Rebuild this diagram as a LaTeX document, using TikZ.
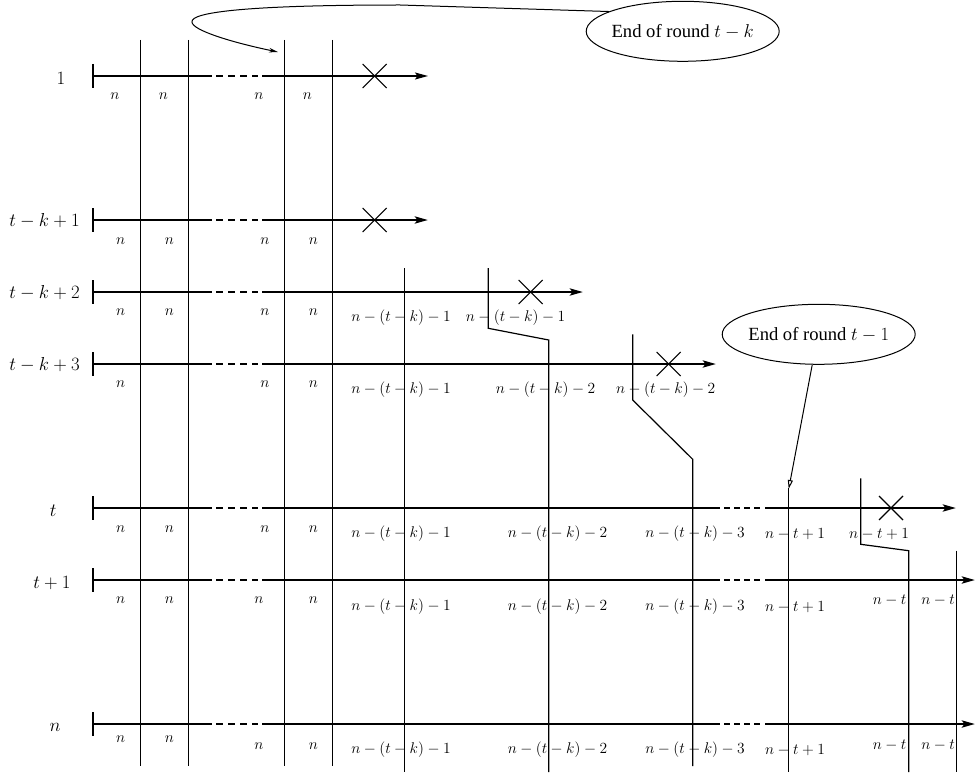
\RequirePackage{fix-cm}
\documentclass[tikz,border=0pt]{standalone}
\usepackage{fontspec}
\newfontfamily\timesfont{Liberation Serif}
\usetikzlibrary{arrows.meta,shapes.geometric}
\begin{document}
\begin{tikzpicture}[x=1pt,y=-1pt,
  rowline/.style={line width=2.6pt},
  thinrow/.style={line width=1.2pt},
  vline/.style={line width=1.2pt},
  rowarrow/.style={-{Stealth[length=13pt,width=7pt,inset=2.5pt]}},
  dashseg/.style={line width=2.6pt, dash pattern=on 7pt off 5pt},
  dashsegb/.style={line width=2.6pt, dash pattern=on 6pt off 4pt},
  cross/.style={line width=1.1pt},
  small/.style={font=\fontsize{15.5}{18}\selectfont, inner sep=0pt},
  big/.style={font=\fontsize{18.8}{22}\selectfont, inner sep=0pt},
  bubble/.style={draw, ellipse, line width=1pt, minimum width=193pt, minimum height=60pt, inner sep=0pt, font=\timesfont\fontsize{18.6}{22}\selectfont}
]
\useasboundingbox (0,0) rectangle (976,773);

% rows: start tick, first thick part, dashes
\foreach \y in {76,220,292,364,508,580,724} {
  \draw[vline] (93,\y-12) -- (93,\y+12);
  \draw[rowline] (93,\y) -- (212,\y);
  \draw[dashseg] (216,\y) -- (258,\y);
}
\draw[thinrow,rowarrow] (262,76) -- (428,76);
\draw[rowline,rowarrow] (262,220) -- (428,220);
\draw[rowline,rowarrow] (262,292) -- (583,292);
\draw[rowline,rowarrow] (262,364) -- (716,364);
\foreach \y in {508,580,724} {
  \draw[rowline] (262,\y) -- (720,\y);
  \draw[dashsegb] (724,\y) -- (761,\y);
}
\draw[rowline,rowarrow] (765,508) -- (956,508);
\draw[rowline,rowarrow] (765,580) -- (975,580);
\draw[rowline,rowarrow] (765,724) -- (975,724);

% vertical lines
\foreach \x in {140.7,188.7,284.7,332.7} \draw[vline] (\x,40) -- (\x,766);
\draw[vline] (404.7,268) -- (404.7,772);
\draw[vline] (488.3,268) -- (488.3,328.3) -- (548.7,340) -- (548.7,772);
\draw[vline] (632.7,334.3) -- (632.7,400) -- (692.7,459.3) -- (692.7,766);
\draw[vline] (788.7,488) -- (788.7,772);
\draw[vline] (860.7,478.3) -- (860.7,544.3) -- (908.7,550.7) -- (908.7,772);
\draw[vline] (956.7,550.7) -- (956.7,772);

% crosses
\foreach \x/\y in {374.7/76,374.7/220,530.7/292,668.7/364,891/508}
  \draw[cross] (\x-12,\y-12) -- (\x+12,\y+12) (\x-12,\y+12) -- (\x+12,\y-12);

% row labels
\node[big] (r1) at (61,78) {$1$};
\node[big] (r2) at (44.5,221) {$t-k+1$};
\node[big] (r3) at (44.5,293) {$t-k+2$};
\node[big] (r4) at (44.5,365) {$t-k+3$};
\node[big] (r5) at (53.3,511) {$t$};
\node[big] (r6) at (52,583) {$t+1$};
\node[big] (r7) at (55,727) {$n$};

% n labels
\foreach \x/\y [count=\i] in {115/96.5,163.3/96.5,259/96.5,307.3/96.5,
  120.7/240.7,169.3/240.7,265/240.7,313.3/240.7,
  120.7/312,169.3/312,265/312,313.3/312,
  120.7/384.3,265/384.3,313.3/384.3,
  120.7/528.7,169.3/528.7,265/528.7,313.3/528.7,
  120.7/600.3,169.3/600.3,259/600.3,313.3/600.3,
  120.7/739.3,169.3/739.3,259/745.7,313.3/745.7}
  \node[small] (n\i) at (\x,\y) {$n$};

% longer labels
\node[small] (a1) at (401,318) {$n-(t-k)-1$};
\node[small] (a2) at (515.5,318) {$n-(t-k)-1$};
\node[small] (b1) at (401,389.5) {$n-(t-k)-1$};
\node[small] (b2) at (545.5,390) {$n-(t-k)-2$};
\node[small] (b3) at (665.7,390) {$n-(t-k)-2$};
\foreach \y/\r in {534/c,606.7/d,750/e} {
  \node[small] (\r1) at (401,\y) {$n-(t-k)-1$};
  \node[small] (\r2) at (557.5,\y) {$n-(t-k)-2$};
  \node[small] (\r3) at (695,\y) {$n-(t-k)-3$};
  \node[small] (\r4) at (795,\y) {$n-t+1$};
}
\node[small] (c5) at (879,534) {$n-t+1$};
\node[small] (d5) at (889.7,600) {$n-t$};
\node[small] (d6) at (938,600) {$n-t$};
\node[small] (e5) at (889.7,745) {$n-t$};
\node[small] (e6) at (938,745) {$n-t$};

% callouts
\node[bubble] (e1) at (682.7,31.3) {\makebox[0pt]{End of round $t-k$}};
\coordinate (c1) at (278,52);
\draw[line width=1pt, -{Stealth[length=9pt,width=4.5pt,open]}]
  (e1.165) -- (400,5) .. controls (250,5) and (190,12) .. (192,22)
  .. controls (192,30) and (230,42) .. (c1);

\node[bubble] (e2) at (818.7,334.3) {\makebox[0pt]{End of round $t-1$}};
\coordinate (c2) at (788.7,489);
\draw[line width=1pt, -{Triangle[open,length=9pt,width=5pt]}] (e2.258) -- (c2);
\end{tikzpicture}
\end{document}
